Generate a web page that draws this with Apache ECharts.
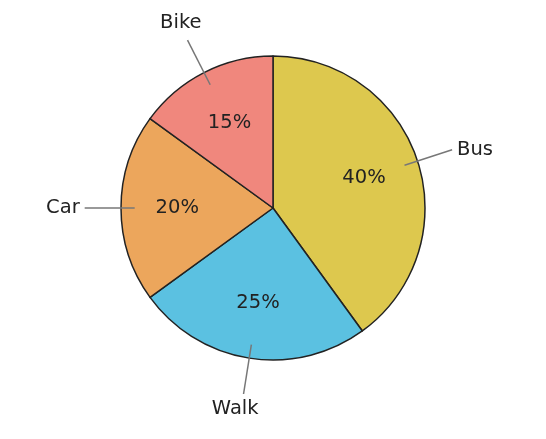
<!DOCTYPE html>
<html>
<head>
    <meta http-equiv="Content-Type" content="text/html; charset=utf-8">
    <script type="text/javascript" src="https://cdn.jsdelivr.net/npm/echarts@6/dist/echarts.min.js"></script>
    <style>
        html, body {margin:0; padding:0; background:#fff;}
        #dom {width:546px; height:439px;}
    </style>
</head>
<body>
<div id="dom"></div>
<script type="text/javascript">
    var categories = ['Bus', 'Walk', 'Car', 'Bike'];
    var shares = [40, 25, 20, 15];
    var colors = ['#ddc84e', '#5bc1e1', '#eca65c', '#f0877d'];

    var center = [273, 208];
    var R = 152;

    // small nudges so the names sit like the original (Bike above, Walk below its line)
    var nameTweak = {
        Bike: {distanceToLabelLine: -14, formatter: '{b}\n ', lineHeight: 34},
        Walk: {distanceToLabelLine: -15, formatter: ' \n{b}', lineHeight: 30}
    };

    function makeData(withColor, tweak) {
        var out = [];
        for (var i = 0; i < categories.length; i++) {
            var d = {name: categories[i], value: shares[i]};
            if (withColor) d.itemStyle = {color: colors[i]};
            if (tweak && nameTweak[categories[i]]) d.label = nameTweak[categories[i]];
            out.push(d);
        }
        return out;
    }

    var myChart = echarts.init(document.getElementById('dom'));
    var font = 'DejaVu Sans';
    var fs = 19.5;
    var option = {
        animation: false,
        series: [
            {
                // the slices
                type: 'pie',
                z: 1,
                center: center,
                radius: [0, R],
                startAngle: 90,
                silent: true,
                label: {show: false},
                labelLine: {show: false},
                itemStyle: {borderColor: '#222', borderWidth: 1.5},
                data: makeData(true)
            },
            {
                // percent labels (inside at ~0.61 R)
                type: 'pie',
                z: 5,
                center: center,
                radius: [0, R * 1.22],
                startAngle: 90,
                silent: true,
                itemStyle: {color: 'rgba(0,0,0,0)', borderWidth: 0},
                label: {
                    show: true,
                    position: 'inside',
                    formatter: function (p) { return p.value + '%'; },
                    color: '#222',
                    fontFamily: font,
                    fontSize: fs
                },
                labelLine: {show: false},
                data: makeData(false)
            },
            {
                // outside names with leader lines
                type: 'pie',
                z: 5,
                center: center,
                radius: [0, R * 0.91],
                startAngle: 90,
                silent: true,
                avoidLabelOverlap: false,
                itemStyle: {color: 'rgba(0,0,0,0)', borderWidth: 0},
                label: {
                    show: true,
                    position: 'outside',
                    formatter: '{b}',
                    color: '#222',
                    fontFamily: font,
                    fontSize: fs,
                    distanceToLabelLine: 5
                },
                labelLine: {
                    show: true,
                    length: 50,
                    length2: 0,
                    lineStyle: {color: '#777', width: 1.5}
                },
                data: makeData(false, true)
            }
        ]
    };
    myChart.setOption(option);
</script>
</body>
</html>
